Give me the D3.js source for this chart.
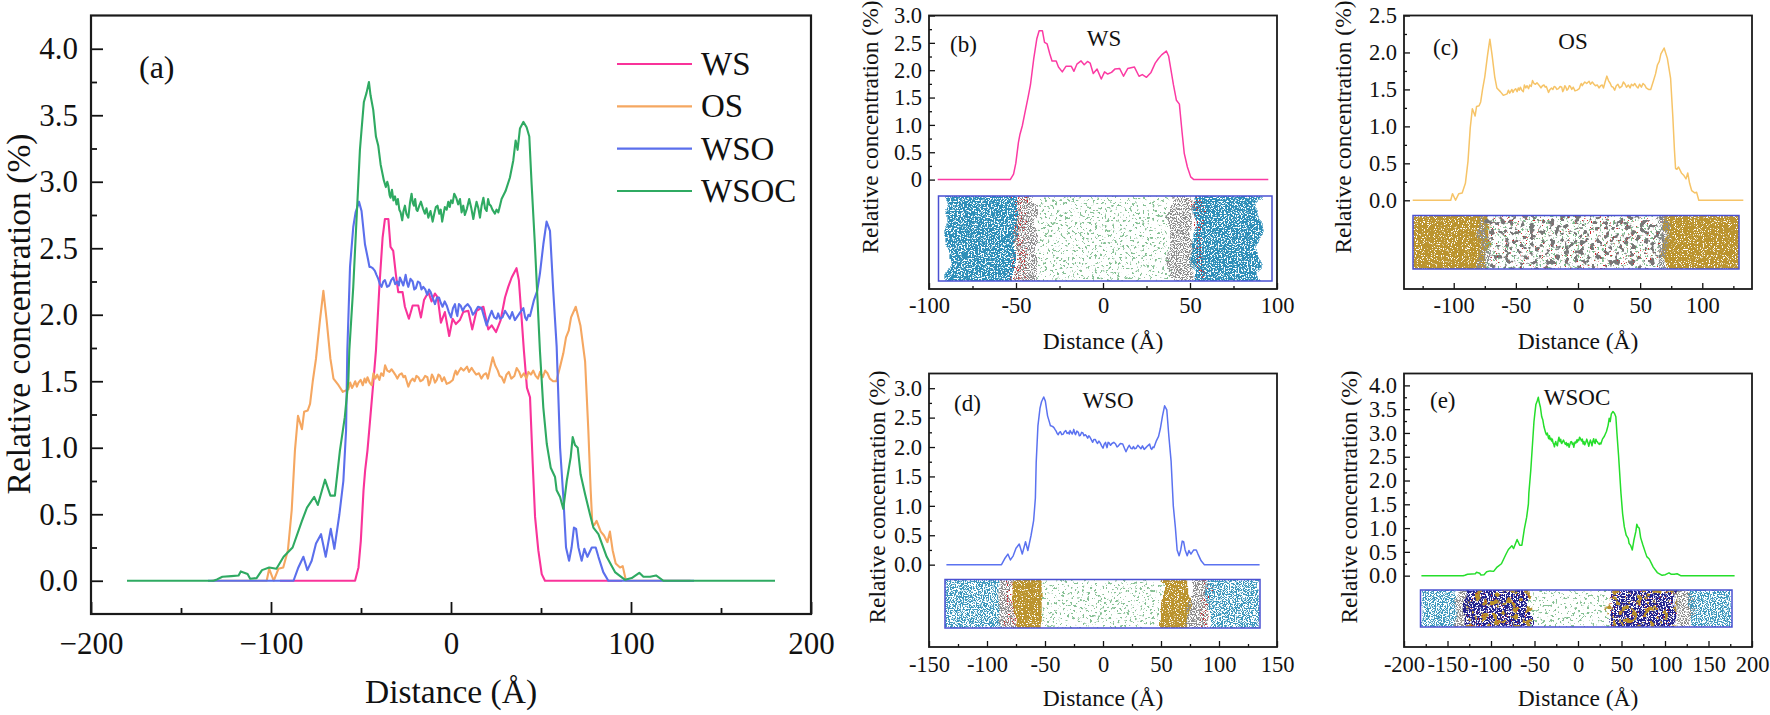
<!DOCTYPE html>
<html>
<head>
<meta charset="utf-8">
<script src="https://cdn.jsdelivr.net/npm/d3@7"></script>
<style>
  body { margin: 0; background: #fff; }
  text { font-family: "Liberation Serif", serif; fill: #111; }
</style>
</head>
<body>
<div id="chart"></div>
<script>
// values: distance (A) and relative concentration (%)
var wsX = [-95,-53.3,-51.4,-50.1,-48.6,-47.7,-46.4,-45,-43.1,-41.7,-39.8,-38,-36.7,-34.8,-33.6,-32.1,-30.6,-29.3,-26.9,-25.6,-23.4,-21.3,-18.2,-16.7,-15,-12.6,-10.8,-8.9,-7.4,-5.6,-3.4,-1,0.9,2.7,4.9,6.8,9.6,11.8,14.2,18,20.7,22.6,25,27.6,30,31.8,33.7,36.4,37.7,39.2,40.5,42.2,43.9,45.4,46.7,48.5,50.4,52.2,95];
var wsY = [0,0,0.1,0.3,0.68,0.83,0.98,1.2,1.5,1.73,2.21,2.58,2.72,2.72,2.51,2.48,2.3,2.17,2.17,2.06,1.97,2.07,2.07,1.98,2.11,2.17,2.1,2.16,2.13,1.94,2.02,1.84,1.97,1.93,1.96,2.02,2.03,1.89,2.03,2.06,1.89,1.92,1.87,1.96,2.13,2.21,2.28,2.35,2.26,1.98,1.73,1.45,1.38,0.88,0.48,0.23,0.05,0,0];

var osX = [-133,-102.4,-101,-98.5,-95.9,-93.2,-90.6,-88.5,-86.7,-85,-82.8,-81.6,-79.6,-78.3,-76.8,-75,-72.8,-70.9,-69.1,-67,-66.3,-65.3,-62.5,-60.1,
  -57,-56,-55,-54.2,-53.2,-52.3,-51.4,-50.2,-49,-48,-47.2,-46.4,-45.2,-44,-43.1,-42,-41,-39.8,-38.8,-37.6,-36.6,-35.4,-34.2,-33,-32,-31,-29.8,-28.6,-27.4,-26.4,-25.5,-24.6,-23.7,-22.5,-21.3,-20.2,-19.2,-18.1,-17,-15.7,-14.4,-13.1,-12.3,-11.6,-10.6,-9.8,-8.9,-7.9,-7,-6.1,-5,-3.8,-2.4,-0.7,1,2,2.6,3.4,4.1,5.5,7,8.9,10,11.5,12.9,14,15.5,16.9,18.2,19.5,20.5,21.8,23.2,24.5,26,27,28.2,29.5,30.8,32.1,33.5,35.2,36.5,37.9,39,40.5,41.9,43,44.4,45.7,47,48.3,49.5,51,52.3,53.6,54.9,56.7,58.5,
  60.6,62.4,63.9,65.4,66.7,69.3,71.9,74.5,76.3,77.6,78.5,79.6,80.9,83.2,85,86.9,88.3,89.8,91.5,93.9,95.4,97.2,133];
var osY = [0,0,0.09,0,0.09,0.1,0.23,0.53,0.98,1.24,1.14,1.27,1.28,1.33,1.5,1.67,1.96,2.18,1.96,1.67,1.61,1.52,1.47,1.42,
  1.44,1.49,1.45,1.47,1.5,1.46,1.49,1.51,1.47,1.52,1.49,1.53,1.49,1.47,1.56,1.52,1.55,1.51,1.56,1.54,1.62,1.58,1.57,1.59,1.57,1.55,1.52,1.55,1.56,1.53,1.54,1.5,1.46,1.5,1.52,1.5,1.54,1.53,1.5,1.51,1.54,1.53,1.47,1.49,1.55,1.53,1.49,1.51,1.55,1.54,1.5,1.53,1.48,1.49,1.51,1.56,1.58,1.55,1.57,1.6,1.58,1.61,1.57,1.6,1.57,1.55,1.56,1.52,1.55,1.56,1.52,1.6,1.68,1.62,1.58,1.54,1.53,1.49,1.55,1.57,1.52,1.54,1.6,1.57,1.53,1.56,1.52,1.57,1.55,1.58,1.54,1.52,1.57,1.53,1.58,1.56,1.52,1.5,1.5,
  1.61,1.71,1.83,1.88,1.98,2.06,1.92,1.65,1.13,0.68,0.43,0.42,0.45,0.37,0.34,0.29,0.37,0.23,0.13,0.1,0.11,0,0];

var wsoX = [-135,-87.5,-84.8,-82,-79.8,-77.4,-75,-72.2,-69.6,-66.8,-64.8,-62,-59.8,-58.3,-57.6,-56.1,-54.3,-53,-51.1,-49.7,-47.8,
  -46,-45.3,-44.7,-43.5,-42.3,-41.4,-40.4,-39.5,-38.6,-37.6,-36.7,-35.5,-34.3,-33.2,-32.1,-31,-29.8,-29,-28.4,-27.4,-26.5,-25.8,-25.2,-24.4,-23.7,-22.5,-21.3,-20.4,-19.5,-18.4,-17.3,-16.4,-15.4,-14.3,-13.2,-12.2,-11.3,-10,-8.9,-7.8,-6.7,-5.7,-4.7,-3.5,-2.4,-1.2,0,1.1,2.2,2.9,3.5,4.4,5.3,6.5,7.7,9.3,10.9,12.1,13.3,15,17,18.5,19.8,21.2,22.6,24,25.3,26.2,27.2,28.6,30,31.4,32.7,34,35.5,37,38.5,40.2,41.2,42,43,43.9,
  46.1,47.9,49.4,51.3,53.1,55,56.8,58.7,60.6,62.4,63.9,65.6,67,68.3,69.5,70.8,72.6,74.1,75.8,78.2,80.4,81.9,84.6,87.4,135];
var wsoY = [0,0,0.1,0.18,0.08,0.15,0.28,0.35,0.18,0.39,0.24,0.5,0.75,1.13,1.73,2.36,2.66,2.77,2.85,2.78,2.53,
  2.41,2.36,2.36,2.35,2.33,2.3,2.27,2.23,2.21,2.25,2.26,2.21,2.22,2.26,2.28,2.23,2.25,2.22,2.28,2.25,2.22,2.26,2.3,2.24,2.21,2.27,2.25,2.19,2.2,2.25,2.24,2.19,2.21,2.19,2.15,2.19,2.17,2.12,2.08,2.13,2.13,2.09,2.06,2.1,2.07,2.02,1.98,2.05,2.08,2.02,1.99,2.08,2.07,2.03,2.06,2.08,2.05,2,2.02,2.06,2.05,1.98,1.92,1.98,2.03,1.98,1.97,2.01,1.97,1.98,2.03,2,1.97,2.02,1.96,1.99,2.02,2.05,1.98,1.96,2,1.99,
  2.11,2.18,2.31,2.53,2.7,2.63,2.18,1.76,1,0.63,0.25,0.15,0.25,0.4,0.39,0.25,0.15,0.24,0.18,0.25,0.25,0.18,0.065,0,0];

var wsocX = [-180,-132,-130,-127,-122,-118,-116.8,-113,-111.6,-108,-105,-101,-97,-93,-88,-82.8,-80,-76,-74,-70,-67,-64.5,-61.7,-59,-57,-56.5,-54.3,-50.6,-49.7,-48.4,-46.9,-45.6,-44.7,-43.2,-41.7,-40.4,-39.1,
  -37.3,-36.2,-35.4,-34.8,-34.1,-33.6,-32.8,-32,-31.1,-30.3,-29.5,-28.7,-28,-27.1,-26.4,-25.6,-24.8,-23.7,-22.8,-21.9,-21.2,-20.6,-19.9,-19.2,-18.6,-17.6,-16.7,-15.6,-14.5,-13.6,-12.6,-11.4,-10.2,-9.3,-8.4,-7.5,-6.5,-5.7,-4.9,-4.1,-3.4,-2.4,-1.5,-0.7,0,0.9,1.8,2.9,4,5,5.9,6.8,7.7,8.9,10.1,11.3,12.4,13.3,14.2,15.2,16.1,17,18,18.9,19.8,20.6,21.3,22.1,23,24.4,25.3,26.3,27.2,28.1,
  30.3,32.7,34.6,35.9,37,38.3,40.2,42,43.5,44.8,46.6,49.4,51.3,53.2,55.4,57.8,58.7,60.6,62.4,64.3,66.5,67.6,68.9,70.4,72,74.5,77.2,79.1,81.9,86.5,91.1,96.7,100.4,104.6,106.9,110.6,113.9,118,180];
var wsocY = [0,0,0.01,0.03,0.035,0.04,0.07,0.05,0.015,0.02,0.08,0.1,0.09,0.18,0.25,0.45,0.55,0.63,0.57,0.76,0.64,0.64,0.98,1.23,1.51,1.73,2.21,3.24,3.39,3.6,3.67,3.75,3.65,3.54,3.34,3.27,3.13,
  3.01,2.96,3,2.97,2.9,2.88,2.94,2.86,2.89,2.83,2.87,2.79,2.77,2.71,2.78,2.82,2.76,2.73,2.84,2.91,2.84,2.82,2.87,2.79,2.78,2.82,2.85,2.8,2.76,2.8,2.73,2.78,2.7,2.76,2.81,2.82,2.76,2.79,2.7,2.76,2.81,2.79,2.85,2.81,2.86,2.84,2.91,2.88,2.83,2.87,2.77,2.82,2.75,2.8,2.87,2.8,2.72,2.79,2.85,2.8,2.73,2.82,2.88,2.8,2.78,2.87,2.83,2.82,2.79,2.76,2.79,2.77,2.82,2.87,
  2.93,3.03,3.16,3.31,3.24,3.4,3.45,3.41,3.34,2.98,2.53,1.73,1.3,1.03,0.85,0.78,0.68,0.63,0.54,0.75,0.93,1.08,1.02,1,0.8,0.65,0.5,0.4,0.35,0.18,0.065,0.007,0.02,0.06,0.03,0.03,0.04,0,0];

var legendNames = ["WS", "OS", "WSO", "WSOC"];
var legendXs = [wsX, osX, wsoX, wsocX];
var legendYs = [wsY, osY, wsoY, wsocY];
var legendColors = ["#f9339a", "#f5a761", "#5b6fec", "#2faa62"];

// tick lists
var aYMajor = [0,0.5,1,1.5,2,2.5,3,3.5,4];
var aYMinor = [0.25,0.75,1.25,1.75,2.25,2.75,3.25,3.75];
var aXMajor = [-200,-100,0,100,200];
var aXMinor = [-150,-50,50,150];
var bYMajor = [0,0.5,1,1.5,2,2.5,3];
var bYMinor = [0.25,0.75,1.25,1.75,2.25,2.75];
var bXMajor = [-100,-50,0,50,100];
var bXMinor = [-75,-25,25,75];
var cYMajor = [0,0.5,1,1.5,2,2.5];
var cYMinor = [0.25,0.75,1.25,1.75,2.25];
var cXMajor = [-100,-50,0,50,100];
var cXMinor = [-125,-75,-25,25,75,125];
var dXMajor = [-150,-100,-50,0,50,100,150];
var dXMinor = [-125,-75,-25,25,75,125];
var dYMajor = [0,0.5,1,1.5,2,2.5,3];
var dYMinor = [0.25,0.75,1.25,1.75,2.25,2.75];
var eXMajor = [-200,-150,-100,-50,0,50,100,150,200];
var eXMinor = [-175,-125,-75,-25,25,75,125,175];
var eYMajor = aYMajor;
var eYMinor = aYMinor;

// snapshot strips under the curves: bands along the distance axis
var bBandFrom = [-90,-50,-38,38,52,52,-52,-50];
var bBandTo   = [-50,-38, 38,52,90,58,-46,-44];
var bBandKind = ["water","alkane","brine","alkane","water","salt","salt","salt"];
var cBandFrom = [-133,-80,-73,-73,-73,69,65];
var cBandTo   = [-73,-73,69,69,69,131,72];
var cBandKind = ["oil","alkane","brineC","chain","spark","oil","alkane"];
var dBandFrom = [-136,-90,-84,-77,-54,50,75,84,90];
var dBandTo   = [-90,-77,-74,-52,50,76,90,92,135];
var dBandKind = ["waterLite","alkane","salt","oil","brine","oil","alkane","salt","waterLite"];
var eBandFrom = [-180,-141,-128,-128,-128,-54,36,36,36,113,130];
var eBandTo   = [-141,-128,-54,-54,-54,36,113,113,113,130,180];
var eBandKind = ["waterLite","alkane","navy","oilLite","spark","brine","navy","oilLite","spark","alkane","waterLite"];

var kindColor = { water:"#2f8fb9", waterLite:"#3e98bd", alkane:"#8d8d8d", brine:"#86c094", brineC:"#7dbb8c", chain:"#777777",
                  salt:"#d0262a", spark:"#d0262a", oil:"#bb942e", oilLite:"#b8902c", navy:"#23238f" };
var kindCut   = { water:0.39, waterLite:0.46, alkane:0.47, brine:0.60, brineC:0.60, chain:0.56,
                  salt:0.63, spark:0.70, oil:0.33, oilLite:0.56, navy:0.42 };
var kindGrain = { water:0.7, waterLite:0.85, alkane:0.85, brine:0.4, brineC:0.45, chain:0.2,
                  salt:0.7, spark:0.6, oil:0.85, oilLite:0.16, navy:0.6 };

var svg = d3.select("#chart").append("svg").attr("width", 1770).attr("height", 715);
var defs = svg.append("defs");

// grainy fill so a band looks like a cloud of atoms
Object.keys(kindCut).forEach(function(k, i){
  var f = defs.append("filter").attr("id", "grain-" + k)
      .attr("x", "-40%").attr("y", "-40%").attr("width", "180%").attr("height", "180%");
  f.append("feTurbulence").attr("type", "fractalNoise").attr("baseFrequency", 0.05)
      .attr("numOctaves", 2).attr("seed", 3 + i).attr("result", "wobble");
  f.append("feDisplacementMap").attr("in", "SourceGraphic").attr("in2", "wobble")
      .attr("scale", 16).attr("xChannelSelector", "R").attr("yChannelSelector", "G").attr("result", "moved");
  f.append("feTurbulence").attr("type", "fractalNoise").attr("baseFrequency", kindGrain[k])
      .attr("numOctaves", 2).attr("seed", 11 + i * 5).attr("result", "noise");
  f.append("feColorMatrix").attr("in", "noise").attr("type", "matrix")
      .attr("values", "0 0 0 0 0  0 0 0 0 0  0 0 0 0 0  14 0 0 0 " + (-14 * kindCut[k]))
      .attr("result", "mask");
  f.append("feComposite").attr("in", "moved").attr("in2", "mask").attr("operator", "in");
});

function drawPanel(p){
  var x = d3.scaleLinear().domain(p.xDomain).range([p.left, p.right]);
  var y = d3.scaleLinear().domain(p.yDomain).range([p.bottom, p.top]);
  var g = svg.append("g");

  // inset strip
  if(p.bandFrom){
    var clipId = "clip-" + p.id;
    defs.append("clipPath").attr("id", clipId).append("rect")
        .attr("x", p.insetLeft).attr("y", p.insetTop)
        .attr("width", p.insetRight - p.insetLeft).attr("height", p.insetBottom - p.insetTop);
    var strip = g.append("g").attr("clip-path", "url(#" + clipId + ")");
    p.bandFrom.forEach(function(from, i){
      var kind = p.bandKind[i];
      strip.append("rect")
          .attr("x", x(from)).attr("y", p.insetTop - 14)
          .attr("width", x(p.bandTo[i]) - x(from)).attr("height", p.insetBottom - p.insetTop + 28)
          .attr("fill", kindColor[kind])
          .attr("filter", "url(#grain-" + kind + ")");
    });
    g.append("rect")
        .attr("x", p.insetLeft).attr("y", p.insetTop)
        .attr("width", p.insetRight - p.insetLeft).attr("height", p.insetBottom - p.insetTop)
        .attr("fill", "none").attr("stroke", "#4a50d2").attr("stroke-width", 1.5);
  }

  // curves
  var line = d3.line().x(function(d){ return x(d[0]); }).y(function(d){ return y(d[1]); });
  p.series.forEach(function(s){
    g.append("path")
        .datum(d3.zip(s.xs, s.ys))
        .attr("d", line)
        .attr("fill", "none")
        .attr("stroke", s.color)
        .attr("stroke-width", p.lineWidth)
        .attr("stroke-linejoin", "round");
  });

  // axes, ticks point into the plot
  var xAxisMajor = d3.axisBottom(x).tickValues(p.xMajor).tickSizeInner(-p.tickLong).tickSizeOuter(0)
      .tickPadding(p.xPad).tickFormat(p.xFormat);
  var xAxisMinor = d3.axisBottom(x).tickValues(p.xMinor).tickSizeInner(-p.tickShort).tickSizeOuter(0).tickFormat("");
  var yAxisMajor = d3.axisLeft(y).tickValues(p.yMajor).tickSizeInner(-p.tickLong).tickSizeOuter(0)
      .tickPadding(p.yPad).tickFormat(p.yFormat);
  var yAxisMinor = d3.axisLeft(y).tickValues(p.yMinor).tickSizeInner(-p.tickShort).tickSizeOuter(0).tickFormat("");

  [[xAxisMajor, "b"], [xAxisMinor, "b"], [yAxisMajor, "l"], [yAxisMinor, "l"]].forEach(function(a){
    var ag = g.append("g")
        .attr("transform", a[1] == "b" ? "translate(0," + p.bottom + ")" : "translate(" + p.left + ",0)")
        .call(a[0]);
    ag.select(".domain").remove();
    ag.selectAll("line").attr("stroke", "#111").attr("stroke-width", p.tickWidth);
    ag.selectAll("text").attr("font-size", p.tickFont).style("font-family", "'Liberation Serif', serif").attr("fill", "#111");
  });

  // frame
  g.append("rect")
      .attr("x", p.left).attr("y", p.top)
      .attr("width", p.right - p.left).attr("height", p.bottom - p.top)
      .attr("fill", "none").attr("stroke", "#1a1a1a").attr("stroke-width", p.frameWidth);

  // labels
  g.append("text")
      .attr("x", (p.left + p.right) / 2).attr("y", p.xLabelY)
      .attr("text-anchor", "middle").attr("font-size", p.labelFont)
      .text("Distance (Å)");
  g.append("text")
      .attr("transform", "translate(" + p.yLabelX + "," + p.yLabelMid + ") rotate(-90)")
      .attr("text-anchor", "middle").attr("font-size", p.labelFont)
      .text("Relative concentration (%)");
  g.append("text").attr("x", p.tagX).attr("y", p.tagY).attr("font-size", p.tagFont).text(p.tag);
  if(p.title){
    g.append("text").attr("x", p.titleX).attr("y", p.titleY)
        .attr("text-anchor", "middle").attr("font-size", p.tagFont).text(p.title);
  }
  return g;
}

function fmt1(d){ return d3.format(".1f")(d); }
function fmtInt(d){ return String(d); }
function fmtMinus(d){ return d < 0 ? "\u2212" + Math.abs(d) : String(d); }

var allSeries = legendNames.map(function(n, i){
  return { xs: legendXs[i], ys: legendYs[i], color: legendColors[i] };
});

var panelA = drawPanel({ id:"a", left:91, right:811, top:15.5, bottom:614,
  xDomain:[-200,200], yDomain:[-0.25,4.25], series:allSeries, lineWidth:2.1,
  xMajor:aXMajor, xMinor:aXMinor, yMajor:aYMajor, yMinor:aYMinor,
  tickLong:12, tickShort:6, tickWidth:1.8, frameWidth:2.2, tickFont:31, xPad:18, yPad:13,
  xFormat:fmtMinus, yFormat:fmt1, labelFont:33.5, xLabelY:703, yLabelX:30, yLabelMid:314,
  tag:"(a)", tagX:139, tagY:78, tagFont:32 });

// legend of panel a
var legendRowY = d3.scalePoint().domain(legendNames).range([64, 191]);
var legend = panelA.append("g").selectAll("g").data(legendNames).enter().append("g")
    .attr("transform", function(d){ return "translate(0," + legendRowY(d) + ")"; });
legend.append("line").attr("x1", 617).attr("x2", 692)
    .attr("stroke", function(d, i){ return legendColors[i]; }).attr("stroke-width", 2.1);
legend.append("text").attr("x", 701).attr("y", 11).attr("font-size", 33).text(function(d){ return d; });

drawPanel({ id:"b", left:929, right:1277, top:15.5, bottom:289,
  xDomain:[-100,100], yDomain:[-2,3], series:[{ xs:wsX, ys:wsY, color:"#fb3aa3" }], lineWidth:1.5,
  xMajor:bXMajor, xMinor:bXMinor, yMajor:bYMajor, yMinor:bYMinor,
  tickLong:6, tickShort:3, tickWidth:1.3, frameWidth:1.8, tickFont:22.5, xPad:8, yPad:7,
  xFormat:fmtInt, yFormat:function(d){ return d == 0 ? "0" : fmt1(d); },
  labelFont:23.5, xLabelY:349, yLabelX:878, yLabelMid:127,
  tag:"(b)", tagX:950, tagY:52, tagFont:23, title:"WS", titleX:1104, titleY:46,
  bandFrom:bBandFrom, bandTo:bBandTo, bandKind:bBandKind, insetLeft:938.5, insetRight:1272, insetTop:196, insetBottom:281 });

drawPanel({ id:"c", left:1404, right:1752, top:15.5, bottom:289,
  xDomain:[-140,140], yDomain:[-1.2,2.5], series:[{ xs:osX, ys:osY, color:"#f6c468" }], lineWidth:1.5,
  xMajor:cXMajor, xMinor:cXMinor, yMajor:cYMajor, yMinor:cYMinor,
  tickLong:6, tickShort:3, tickWidth:1.3, frameWidth:1.8, tickFont:22.5, xPad:8, yPad:7,
  xFormat:fmtInt, yFormat:fmt1, labelFont:23.5, xLabelY:349, yLabelX:1351, yLabelMid:127,
  tag:"(c)", tagX:1433, tagY:55, tagFont:23, title:"OS", titleX:1573, titleY:49,
  bandFrom:cBandFrom, bandTo:cBandTo, bandKind:cBandKind, insetLeft:1413, insetRight:1739, insetTop:215.5, insetBottom:269 });

drawPanel({ id:"d", left:929, right:1277, top:373.5, bottom:647,
  xDomain:[-150,150], yDomain:[-1.4,3.25], series:[{ xs:wsoX, ys:wsoY, color:"#5b72f0" }], lineWidth:1.5,
  xMajor:dXMajor, xMinor:dXMinor, yMajor:dYMajor, yMinor:dYMinor,
  tickLong:6, tickShort:3, tickWidth:1.3, frameWidth:1.8, tickFont:22.5, xPad:9, yPad:7,
  xFormat:fmtInt, yFormat:fmt1, labelFont:23.5, xLabelY:706, yLabelX:885, yLabelMid:497,
  tag:"(d)", tagX:954, tagY:411, tagFont:23, title:"WSO", titleX:1108, titleY:408,
  bandFrom:dBandFrom, bandTo:dBandTo, bandKind:dBandKind, insetLeft:945, insetRight:1260, insetTop:579.5, insetBottom:628 });

drawPanel({ id:"e", left:1404, right:1752, top:373.5, bottom:647,
  xDomain:[-200,200], yDomain:[-1.5,4.25], series:[{ xs:wsocX, ys:wsocY, color:"#25de2b" }], lineWidth:1.5,
  xMajor:eXMajor, xMinor:eXMinor, yMajor:eYMajor, yMinor:eYMinor,
  tickLong:6, tickShort:3, tickWidth:1.3, frameWidth:1.8, tickFont:22.5, xPad:9, yPad:7,
  xFormat:fmtInt, yFormat:fmt1, labelFont:23.5, xLabelY:706, yLabelX:1357, yLabelMid:497,
  tag:"(e)", tagX:1430, tagY:408, tagFont:23, title:"WSOC", titleX:1577, titleY:405,
  bandFrom:eBandFrom, bandTo:eBandTo, bandKind:eBandKind, insetLeft:1420.5, insetRight:1732, insetTop:590, insetBottom:627 });
</script>
</body>
</html>
